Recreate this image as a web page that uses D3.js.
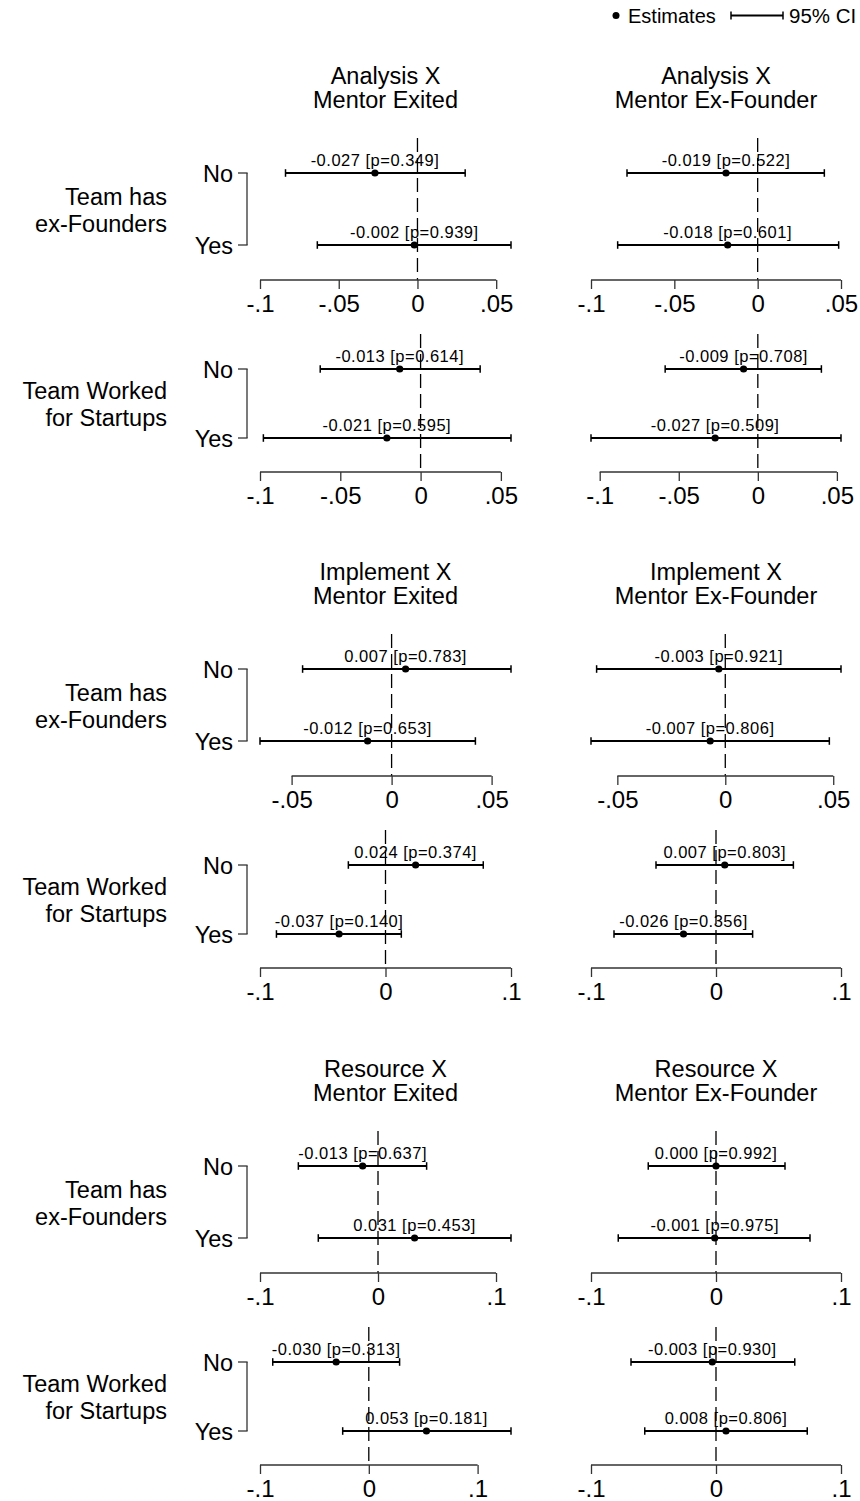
<!DOCTYPE html>
<html><head><meta charset="utf-8">
<script src="https://cdn.jsdelivr.net/npm/d3@7"></script>
<style>body{margin:0;background:#fff}svg{display:block;font-family:"Liberation Sans",Arial,Helvetica,sans-serif}</style>
</head><body><svg id="chart" width="860" height="1501"></svg>
<script>
// ---- data ----
const outcomes = ["Analysis X", "Implement X", "Resource X"];
const mentorVars = ["Mentor Exited", "Mentor Ex-Founder"];
const teamVars = [["Team has", "ex-Founders"], ["Team Worked", "for Startups"]];
const levels = ["No", "Yes"];
// panel order: outcome -> team variable -> mentor variable; each entry [No, Yes]
const estimates = [
  [-0.027, -0.002], [-0.019, -0.018],
  [-0.013, -0.021], [-0.009, -0.027],
  [0.007, -0.012], [-0.003, -0.007],
  [0.024, -0.037], [0.007, -0.026],
  [-0.013, 0.031], [0.000, -0.001],
  [-0.030, 0.053], [-0.003, 0.008]
];
const pValues = [
  [0.349, 0.939], [0.522, 0.601],
  [0.614, 0.595], [0.708, 0.509],
  [0.783, 0.653], [0.921, 0.806],
  [0.374, 0.140], [0.803, 0.356],
  [0.637, 0.453], [0.992, 0.975],
  [0.313, 0.181], [0.930, 0.806]
];
const ciLow = [
  [-0.0838, -0.0636], [-0.0784, -0.0840],
  [-0.0625, -0.0979], [-0.0586, -0.1055],
  [-0.0445, -0.0658], [-0.0596, -0.0622],
  [-0.0296, -0.0869], [-0.0480, -0.0816],
  [-0.0675, -0.0506], [-0.0542, -0.0782],
  [-0.0883, -0.0240], [-0.0680, -0.0570]
];
const ciHigh = [
  [0.0303, 0.0594], [0.0400, 0.0486],
  [0.0371, 0.0563], [0.0402, 0.0526],
  [0.0597, 0.0419], [0.0536, 0.0482],
  [0.0779, 0.0126], [0.0619, 0.0293],
  [0.0412, 0.1127], [0.0552, 0.0752],
  [0.0283, 0.1307], [0.0630, 0.0730]
];
const tickValuesA = [-0.1, -0.05, 0, 0.05];
const tickLabelsA = ["-.1", "-.05", "0", ".05"];
const tickValuesB = [-0.05, 0, 0.05];
const tickLabelsB = ["-.05", "0", ".05"];
const tickValuesC = [-0.1, 0, 0.1];
const tickLabelsC = ["-.1", "0", ".1"];
// tick set per (outcome, team variable)
const tickSets = [
  [[tickValuesA, tickLabelsA], [tickValuesA, tickLabelsA]],
  [[tickValuesB, tickLabelsB], [tickValuesC, tickLabelsC]],
  [[tickValuesC, tickLabelsC], [tickValuesC, tickLabelsC]]
];

// ---- layout ----
const svg = d3.select("#chart");
const titleY = [75, 571, 1068];
const colRange = [[260, 511], [591, 841]];
const subOffsets = [{no: 98, gap: 72, axis: 107}, {no: 294, gap: 69, axis: 103}];
const FONT = '"Liberation Sans",Arial,Helvetica,sans-serif';
const f3 = v => d3.format(".3f")(v).replace("\u2212", "-");

// legend
const lg = svg.append("g");
lg.append("circle").attr("cx", 616).attr("cy", 15.5).attr("r", 3.5).attr("fill", "#000");
lg.append("text").attr("x", 628).attr("y", 22.5).attr("font-size", 20).text("Estimates");
lg.append("line").attr("x1", 731).attr("x2", 783).attr("y1", 15.5).attr("y2", 15.5).attr("stroke", "#000").attr("stroke-width", 1.8);
[731, 783].forEach(x => lg.append("line").attr("x1", x).attr("x2", x).attr("y1", 11.5).attr("y2", 19.5).attr("stroke", "#000").attr("stroke-width", 1.5));
lg.append("text").attr("x", 789).attr("y", 22.5).attr("font-size", 20.5).text("95% CI");

outcomes.forEach((outcome, g) => {
  const T = titleY[g];
  // titles
  mentorVars.forEach((m, c) => {
    const cx = (colRange[c][0] + colRange[c][1]) / 2;
    const t = svg.append("text").attr("text-anchor", "middle").attr("font-size", 23.5);
    t.append("tspan").attr("x", cx).attr("y", T + 8.5).text(outcome);
    t.append("tspan").attr("x", cx).attr("y", T + 32.5).text(m);
  });
  teamVars.forEach((tv, s) => {
    const off = subOffsets[s];
    const yNo = T + off.no, yYes = yNo + off.gap, yAxis = yNo + off.axis;
    const y = d3.scalePoint().domain(levels).range([yNo, yYes]);
    // group label
    const mid = (yNo + yYes) / 2;
    const gl = svg.append("text").attr("text-anchor", "end").attr("font-size", 23.5);
    gl.append("tspan").attr("x", 167).attr("y", mid - 13 + 8.5).text(tv[0]);
    gl.append("tspan").attr("x", 167).attr("y", mid + 14 + 8.5).text(tv[1]);
    // y bracket
    const yb = svg.append("g").attr("stroke", "#333").attr("stroke-width", 1.3).attr("fill", "none");
    yb.append("line").attr("x1", 247).attr("x2", 247).attr("y1", y("No")).attr("y2", y("Yes"));
    levels.forEach(l => {
      yb.append("line").attr("x1", 238).attr("x2", 247.6).attr("y1", y(l)).attr("y2", y(l));
      svg.append("text").attr("x", 233).attr("y", y(l) + 8.5).attr("text-anchor", "end").attr("font-size", 23.5).text(l);
    });
    const [tv_, tl_] = tickSets[g][s];
    mentorVars.forEach((m, c) => {
      const pi = g * 4 + s * 2 + c;
      const lo = ciLow[pi], hi = ciHigh[pi], est = estimates[pi], pv = pValues[pi];
      const dom = [Math.min(d3.min(tv_), d3.min(lo)), Math.max(d3.max(tv_), d3.max(hi))];
      const x = d3.scaleLinear().domain(dom).range(colRange[c]);
      const pg = svg.append("g");
      // zero line
      pg.append("line").attr("x1", x(0)).attr("x2", x(0)).attr("y1", yNo - 35).attr("y2", yAxis)
        .attr("stroke", "#000").attr("stroke-width", 1.3).attr("stroke-dasharray", "14,6");
      // axis
      const axis = d3.axisBottom(x).tickValues(tv_).tickFormat((d, i) => tl_[i]).tickSize(9).tickSizeOuter(0);
      const ag = pg.append("g").attr("transform", `translate(0,${yAxis})`).call(axis);
      ag.select(".domain").remove();
      ag.selectAll(".tick line").attr("stroke", "#333").attr("stroke-width", 1.3);
      ag.selectAll(".tick text").attr("font-size", 24).attr("font-family", FONT).attr("fill", "#000")
        .attr("y", 31.5).attr("dy", 0);
      ag.append("line").attr("x1", x(d3.min(tv_))).attr("x2", x(d3.max(tv_))).attr("y1", 0).attr("y2", 0)
        .attr("stroke", "#333").attr("stroke-width", 1.3);
      // CIs and estimates
      levels.forEach((l, k) => {
        const yy = y(l);
        pg.append("line").attr("x1", x(lo[k])).attr("x2", x(hi[k])).attr("y1", yy).attr("y2", yy)
          .attr("stroke", "#000").attr("stroke-width", 1.8);
        [lo[k], hi[k]].forEach(v => pg.append("line").attr("x1", x(v)).attr("x2", x(v))
          .attr("y1", yy - 3.8).attr("y2", yy + 3.8).attr("stroke", "#000").attr("stroke-width", 1.5));
        pg.append("circle").attr("cx", x(est[k])).attr("cy", yy).attr("r", 3.6).attr("fill", "#000");
        pg.append("text").attr("x", x(est[k])).attr("y", yy - 7).attr("text-anchor", "middle")
          .attr("font-size", 16.5).attr("letter-spacing", 0.5)
          .text(`${f3(est[k])} [p=${f3(pv[k])}]`);
      });
    });
  });
});
</script></body></html>
